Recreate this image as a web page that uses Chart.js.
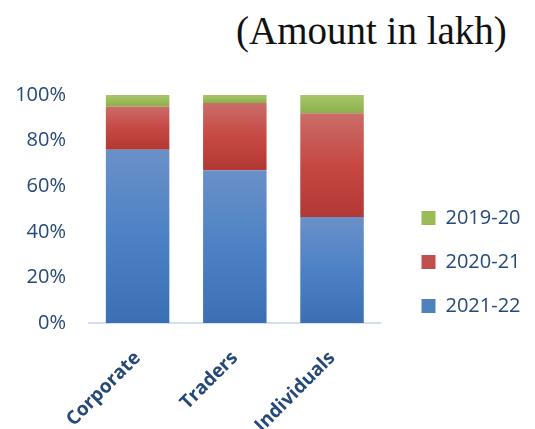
<!DOCTYPE html>
<html>
<head>
<meta charset="utf-8">
<script src="https://cdn.jsdelivr.net/npm/chart.js@4/dist/chart.umd.min.js"></script>
<style>
  html, body { margin: 0; padding: 0; background: #ffffff; }
  #wrap { position: relative; width: 535px; height: 429px; }
  #note {
    position: absolute; left: 236px; top: 11px;
    font-family: "Liberation Serif", serif; font-size: 39px; line-height: 1;
    color: #111111; white-space: nowrap;
  }
  canvas { position: absolute; left: 0; top: 0; }
</style>
</head>
<body>
<div id="wrap">
  <div id="note">(Amount in lakh)</div>
  <canvas id="c" width="535" height="429"></canvas>
</div>
<script>
// Share of each year within every borrower category (percent)
const categories = ['Corporate', 'Traders', 'Individuals'];
const seriesNames = ['2021-22', '2020-21', '2019-20'];
const share2021_22 = [76, 67, 46.5];
const share2020_21 = [19, 29.5, 45.5];
const share2019_20 = [5, 3.5, 8];
const yTicks = [0, 20, 40, 60, 80, 100];

const inkBlue = '#254979';

// vertical gradient stops (top -> bottom) and legend swatch for each series
const blueStops = ['#6b90c8', '#4c82c5', '#3b6fb3'];
const redStops  = ['#ca6d68', '#c64843', '#b23834'];
const greenStops = ['#a8c56e', '#9abb5a', '#8bb04a'];
const swatches = ['#4f81bd', '#c0504d', '#9bbb59'];

// gradient spanning one stacked segment of one bar
function segmentFill(stops) {
  return (ctx) => {
    const chart = ctx.chart;
    if (ctx.type !== 'data' || !chart.chartArea || !chart.scales.y) return stops[1];
    const y = chart.scales.y;
    let base = 0;
    for (let d = 0; d < ctx.datasetIndex; d++) {
      base += chart.data.datasets[d].data[ctx.dataIndex];
    }
    const top = base + chart.data.datasets[ctx.datasetIndex].data[ctx.dataIndex];
    const y0 = y.getPixelForValue(top);
    const y1 = y.getPixelForValue(base);
    if (!isFinite(y0) || !isFinite(y1) || y0 === y1) return stops[1];
    const g = chart.ctx.createLinearGradient(0, y0, 0, y1);
    g.addColorStop(0, stops[0]);
    g.addColorStop(0.5, stops[1]);
    g.addColorStop(1, stops[2]);
    return g;
  };
}

const tickFont = { family: '"Open Sans", sans-serif', size: 20 };

new Chart(document.getElementById('c'), {
  type: 'bar',
  data: {
    labels: categories,
    datasets: [
      { label: seriesNames[0], data: share2021_22, backgroundColor: segmentFill(blueStops) },
      { label: seriesNames[1], data: share2020_21, backgroundColor: segmentFill(redStops) },
      { label: seriesNames[2], data: share2019_20, backgroundColor: segmentFill(greenStops) }
    ]
  },
  options: {
    responsive: false,
    animation: false,
    devicePixelRatio: 1,
    layout: { padding: { top: 95, left: 0, right: 5, bottom: 0 } },
    datasets: { bar: { categoryPercentage: 1, barPercentage: 0.653, borderWidth: 0 } },
    scales: {
      x: {
        stacked: true,
        stack: 'bottomRow', stackWeight: 294,
        grid: { display: false, drawTicks: false },
        border: { display: true, color: '#d3def0', width: 2 },
        ticks: {
          color: inkBlue,
          font: { family: '"Open Sans", sans-serif', size: 19, weight: 'bold' },
          minRotation: 45, maxRotation: 45, padding: 24
        },
        afterFit(scale) { scale.height = 106; }
      },
      // empty strip after the category axis, keeps the legend clear of the bars
      xSpacer: {
        type: 'category', axis: 'x', position: 'bottom',
        stack: 'bottomRow', stackWeight: 17,
        display: true,
        grid: { display: false, drawTicks: false },
        border: { display: false },
        ticks: { display: false },
        afterFit(scale) { scale.height = 106; }
      },
      y: {
        stacked: true,
        min: 0, max: 100,
        grid: { display: false, drawTicks: false },
        border: { display: false },
        afterBuildTicks(scale) { scale.ticks = yTicks.map(v => ({ value: v })); },
        ticks: {
          color: inkBlue, font: tickFont, padding: 23,
          callback: v => v + '%'
        },
        afterFit(scale) { scale.width = 89; }
      }
    },
    plugins: {
      title: { display: false },
      tooltip: { enabled: false },
      legend: {
        position: 'right',
        align: 'center',
        reverse: true,
        labels: {
          color: inkBlue, font: tickFont,
          boxWidth: 14, boxHeight: 14, padding: 24,
          generateLabels(chart) {
            const items = Chart.defaults.plugins.legend.labels.generateLabels(chart);
            items.forEach(it => {
              it.fillStyle = swatches[it.datasetIndex];
              it.strokeStyle = swatches[it.datasetIndex];
              it.lineWidth = 0;
            });
            return items;
          }
        }
      }
    }
  }
});
</script>
</body>
</html>
